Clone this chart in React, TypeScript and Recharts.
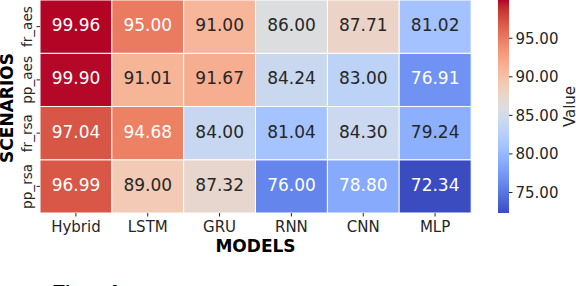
import React from 'react';
import { BarChart, Bar, XAxis, YAxis, Cell, LabelList } from 'recharts';

const models = ['Hybrid', 'LSTM', 'GRU', 'RNN', 'CNN', 'MLP'];
const scenarios = ['fr_aes', 'pp_aes', 'fr_rsa', 'pp_rsa']; // top to bottom
const frAes = [99.96, 95.0, 91.0, 86.0, 87.71, 81.02];
const ppAes = [99.9, 91.01, 91.67, 84.24, 83.0, 76.91];
const frRsa = [97.04, 94.68, 84.0, 81.04, 84.3, 79.24];
const ppRsa = [96.99, 89.0, 87.32, 76.0, 78.8, 72.34];
const colorbarTicks = [75, 80, 85, 90, 95];

const rowValues: Record<string, number[]> = {
  fr_aes: frAes,
  pp_aes: ppAes,
  fr_rsa: frRsa,
  pp_rsa: ppRsa,
};
const stackOrder = [...scenarios].reverse(); // bottom to top

const allVals = [...frAes, ...ppAes, ...frRsa, ...ppRsa];
const vmin = Math.min(...allVals);
const vmax = Math.max(...allVals);

// Moreland cool-warm colormap (matplotlib 'coolwarm')
const CW: number[][] = [
  [59, 76, 192], [68, 90, 204], [77, 104, 215], [87, 117, 225], [98, 130, 234],
  [108, 142, 241], [119, 154, 247], [130, 165, 251], [141, 176, 254], [152, 185, 255],
  [163, 194, 255], [174, 201, 253], [184, 208, 249], [194, 213, 244], [204, 217, 238],
  [213, 219, 230], [221, 221, 221], [229, 216, 209], [236, 211, 197], [241, 204, 185],
  [245, 196, 173], [247, 187, 160], [247, 177, 148], [247, 166, 135], [244, 154, 123],
  [241, 141, 111], [236, 127, 99], [229, 112, 88], [222, 96, 77], [213, 80, 66],
  [203, 62, 56], [192, 40, 47], [180, 4, 38],
];
function cmapRgb(t: number): number[] {
  const tt = Math.max(0, Math.min(1, t)) * (CW.length - 1);
  const i = Math.min(CW.length - 2, Math.floor(tt));
  const f = tt - i;
  return CW[i].map((c, k) => c + (CW[i + 1][k] - c) * f);
}
function rgbStr(c: number[]) {
  return `rgb(${Math.round(c[0])},${Math.round(c[1])},${Math.round(c[2])})`;
}
const norm = (v: number) => (v - vmin) / (vmax - vmin);
const colorOf = (v: number) => rgbStr(cmapRgb(norm(v)));
function textColorOf(v: number) {
  const c = cmapRgb(norm(v)).map((x) => {
    const s = x / 255;
    return s <= 0.03928 ? s / 12.92 : Math.pow((s + 0.055) / 1.055, 2.4);
  });
  const lum = 0.2126 * c[0] + 0.7152 * c[1] + 0.0722 * c[2];
  return lum > 0.42 ? '#262626' : '#ffffff';
}

const tableData = models.map((m, i) => {
  const row: Record<string, any> = { model: m };
  scenarios.forEach((s) => {
    row[s] = 1;
    row['v_' + s] = rowValues[s][i];
  });
  return row;
});

const FONT = 'DejaVu Sans';
const DARK = '#262626';

const renderCellLabel = (props: any) => {
  const { x, y, width, height, value } = props;
  const v = Number(value);
  return (
    <text
      x={Number(x) + Number(width) / 2}
      y={Number(y) + Number(height) / 2 - 1.5}
      textAnchor="middle"
      dominantBaseline="central"
      fontFamily={FONT}
      fontSize={17}
      fill={textColorOf(v)}
    >
      {v.toFixed(2)}
    </text>
  );
};

const XTick = (props: any) => {
  const { x, y, payload } = props;
  return (
    <text x={x} y={y + 13} textAnchor="middle" fontFamily={FONT} fontSize={15} fill={DARK}>
      {payload.value}
    </text>
  );
};

const YTick = (props: any) => {
  const { x, y, payload } = props;
  const idx = Math.floor(payload.value);
  const name = stackOrder[idx];
  const tx = x - 2.5;
  return (
    <text
      x={tx}
      y={y}
      transform={`rotate(-90 ${tx} ${y})`}
      textAnchor="middle"
      fontFamily={FONT}
      fontSize={13.6}
      fill={DARK}
    >
      {name}
    </text>
  );
};

const XLabel = (props: any) => {
  const vb = props.viewBox || { x: 40, y: 213, width: 431, height: 73 };
  return (
    <text
      x={vb.x + vb.width / 2}
      y={vb.y + 39}
      textAnchor="middle"
      fontFamily={FONT}
      fontWeight="bold"
      fontSize={17}
      fill="#000"
    >
      MODELS
    </text>
  );
};

const YLabel = (props: any) => {
  const vb = props.viewBox || { x: 0, y: 0, width: 40, height: 213 };
  const cx = 13;
  const cy = vb.y + vb.height / 2 + 1.5;
  return (
    <text
      x={cx}
      y={cy}
      transform={`rotate(-90 ${cx} ${cy})`}
      textAnchor="middle"
      fontFamily={FONT}
      fontWeight="bold"
      fontSize={17}
      fill="#000"
    >
      SCENARIOS
    </text>
  );
};

const ValueLabel = (props: any) => {
  const vb = props.viewBox || { x: 11, y: 0, width: 67, height: 213 };
  const cx = vb.x + vb.width - 1;
  const cy = vb.y + vb.height / 2;
  return (
    <text
      x={cx}
      y={cy}
      transform={`rotate(-90 ${cx} ${cy})`}
      textAnchor="middle"
      fontFamily={FONT}
      fontSize={15}
      fill={DARK}
    >
      Value
    </text>
  );
};

const cbData = [{ name: 'cb', range: [vmin, vmax] }];

export default function App() {
  return (
    <div style={{ position: 'absolute', left: 0, top: 0, width: 576, height: 286, overflow: 'hidden', background: '#fff' }}>
      <svg width={0} height={0} style={{ position: 'absolute' }}>
        <defs>
          <linearGradient id="cbGrad" x1="0" y1="1" x2="0" y2="0">
            {CW.map((c, i) => (
              <stop key={i} offset={i / (CW.length - 1)} stopColor={rgbStr(c)} />
            ))}
          </linearGradient>
        </defs>
      </svg>
      <div style={{ position: 'absolute', left: 0, top: 0 }}>
        <BarChart
          width={576}
          height={286}
          data={tableData}
          margin={{ top: 0, right: 105, bottom: 0, left: 0 }}
          barCategoryGap={0}
          barGap={0}
        >
          <XAxis
            dataKey="model"
            height={73}
            axisLine={false}
            tickLine={{ stroke: DARK }}
            tickSize={3.5}
            tickMargin={2}
            tick={<XTick />}
            interval={0}
            label={<XLabel />}
          />
          <YAxis
            type="number"
            domain={[0, 4]}
            ticks={[0.5, 1.5, 2.5, 3.5]}
            width={40}
            axisLine={false}
            tickLine={{ stroke: DARK }}
            tickSize={3.5}
            tickMargin={2}
            tick={<YTick />}
            interval={0}
            allowDataOverflow
            label={<YLabel />}
          />
          {stackOrder.map((s) => (
            <Bar key={s} dataKey={s} stackId="heat" isAnimationActive={false}>
              {rowValues[s].map((v, i) => (
                <Cell key={i} fill={colorOf(v)} stroke="#ffffff" strokeWidth={1} />
              ))}
              <LabelList dataKey={'v_' + s} content={renderCellLabel} />
            </Bar>
          ))}
        </BarChart>
      </div>
      <div style={{ position: 'absolute', left: 498, top: 0 }}>
        <BarChart
          width={78}
          height={286}
          data={cbData}
          margin={{ top: 0, right: 0, bottom: 73, left: 0 }}
          barCategoryGap={0}
        >
          <XAxis dataKey="name" hide />
          <YAxis
            orientation="right"
            type="number"
            domain={[vmin, vmax]}
            ticks={colorbarTicks}
            width={67}
            axisLine={false}
            tickLine={{ stroke: DARK }}
            tickSize={3.5}
            tickMargin={3}
            allowDataOverflow
            tickFormatter={(v: number) => v.toFixed(2)}
            tick={{ fontSize: 15, fill: DARK, fontFamily: FONT }}
            label={<ValueLabel />}
          />
          <Bar dataKey="range" fill="url(#cbGrad)" isAnimationActive={false} />
        </BarChart>
      </div>
      <div
        style={{
          position: 'absolute',
          left: 51,
          top: 283,
          fontFamily: FONT,
          fontSize: 26,
          lineHeight: '26px',
          color: '#000',
          whiteSpace: 'nowrap',
        }}
      >
        Fig. 4
      </div>
    </div>
  );
}
